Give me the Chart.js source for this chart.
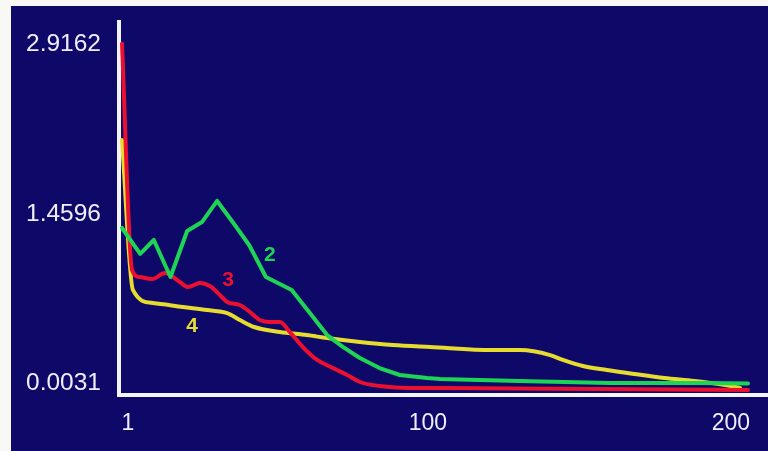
<!DOCTYPE html>
<html>
<head>
<meta charset="utf-8">
<script src="https://cdn.jsdelivr.net/npm/chart.js@4.4.1/dist/chart.umd.min.js"></script>
<style>
html, body { margin: 0; padding: 0; background: #f8f8f4; }
#wrap { width: 768px; height: 451px; }
</style>
</head>
<body>
<div id="wrap"><canvas id="chart" width="768" height="451"></canvas></div>
<script>
// curve values
const greenX = [1, 7, 11.5, 17, 22.5, 27.4, 32.4, 38, 43, 48.5, 57, 63, 68.7, 74, 79.5, 86, 92.7, 101.7, 106, 132, 162, 192, 207.6];
const greenY = [1.338, 1.115, 1.235, 0.917, 1.312, 1.389, 1.570, 1.372, 1.190, 0.917, 0.806, 0.608, 0.419, 0.316, 0.222, 0.136, 0.076, 0.050, 0.042, 0.025, 0.007, 0.007, 0.003];

const redX = [1, 4.3, 6.9, 10.9, 15.2, 20.1, 22.8, 26.7, 30, 33.3, 35.7, 39.9, 43.2, 46.5, 49.8, 53.1, 56.4, 60.7, 65.4, 70.6, 75.3, 79.5, 86, 96, 106, 159, 207.6];
const redY = [2.92, 0.977, 0.917, 0.900, 0.951, 0.874, 0.831, 0.866, 0.840, 0.763, 0.703, 0.677, 0.617, 0.548, 0.531, 0.531, 0.445, 0.316, 0.205, 0.136, 0.076, 0.016, -0.018, -0.036, -0.036, -0.044, -0.053];

const yellowX = [1, 4.6, 11.2, 21.1, 29.1, 35.7, 39.9, 44.6, 53.1, 62, 68.7, 79.5, 90.4, 102.7, 123.4, 132.4, 142.3, 146.5, 153.1, 161, 170, 180, 190, 200, 205];
const yellowY = [2.093, 0.806, 0.694, 0.660, 0.634, 0.608, 0.548, 0.488, 0.445, 0.419, 0.393, 0.359, 0.333, 0.316, 0.290, 0.290, 0.247, 0.205, 0.153, 0.119, 0.085, 0.050, 0.025, -0.010, -0.036];

const seriesNames = ['2', '3', '4'];
const lineColors = ['#1ed454', '#ec1030', '#e6dc30'];
const xTicks = [1, 100, 200];
const yTicks = [0.0031, 1.4596, 2.9162];

// where the series numbers sit, in data units
const tagX = [49.8, 36, 24.1];
const tagY = [1.106, 0.891, 0.497];

const pts = (xs, ys) => xs.map((x, i) => ({ x: x, y: ys[i] }));

const backdrop = {
    id: 'backdrop',
    beforeDraw(chart) {
        const ctx = chart.ctx;
        ctx.save();
        ctx.fillStyle = '#f8f8f4';
        ctx.fillRect(0, 0, chart.width, chart.height);
        ctx.fillStyle = '#0e0868';
        ctx.fillRect(11, 6, chart.width - 11, chart.height - 6);
        ctx.restore();
    }
};

const curveTags = {
    id: 'curveTags',
    afterDatasetsDraw(chart) {
        const ctx = chart.ctx;
        const x = chart.scales.x, y = chart.scales.y;
        ctx.save();
        ctx.font = 'bold 21px "Liberation Sans", Arial, sans-serif';
        ctx.textAlign = 'center';
        ctx.textBaseline = 'middle';
        seriesNames.forEach((name, i) => {
            ctx.fillStyle = lineColors[i];
            ctx.fillText(name, x.getPixelForValue(tagX[i]), y.getPixelForValue(tagY[i]));
        });
        ctx.restore();
    }
};

const lineStyle = {
    borderWidth: 4,
    pointRadius: 0,
    fill: false,
    borderJoinStyle: 'round',
    borderCapStyle: 'round'
};

const fontFamily = '"Liberation Sans", Arial, sans-serif';

new Chart(document.getElementById('chart').getContext('2d'), {
    type: 'line',
    data: {
        datasets: [
            Object.assign({ label: seriesNames[0], data: pts(greenX, greenY), borderColor: lineColors[0], tension: 0 }, lineStyle),
            Object.assign({ label: seriesNames[1], data: pts(redX, redY), borderColor: lineColors[1], cubicInterpolationMode: 'monotone' }, lineStyle),
            Object.assign({ label: seriesNames[2], data: pts(yellowX, yellowY), borderColor: lineColors[2], cubicInterpolationMode: 'monotone' }, lineStyle)
        ]
    },
    options: {
        responsive: false,
        animation: false,
        layout: { padding: { top: 22, left: 0, right: 0, bottom: 0 } },
        plugins: {
            legend: { display: false },
            tooltip: { enabled: false }
        },
        scales: {
            x: {
                type: 'linear',
                min: 0.01,
                max: 214.2,
                afterBuildTicks: s => { s.ticks = xTicks.map(v => ({ value: v })); },
                afterFit: s => { s.height = 56; s.paddingLeft = 0; s.paddingRight = 0; },
                grid: { display: false, drawTicks: false },
                border: { display: true, color: '#f4f4ff', width: 4 },
                ticks: {
                    color: '#eeeeff',
                    font: { family: fontFamily, size: 23 },
                    padding: 15,
                    labelOffset: 6,
                    maxRotation: 0,
                    autoSkip: false,
                    callback: v => String(v)
                }
            },
            y: {
                type: 'linear',
                min: -0.0956,
                max: 3.1061,
                afterBuildTicks: s => { s.ticks = yTicks.map(v => ({ value: v })); },
                afterFit: s => { s.width = 119; s.paddingTop = 0; s.paddingBottom = 0; },
                grid: { display: false, drawTicks: false },
                border: { display: true, color: '#f4f4ff', width: 4 },
                ticks: {
                    color: '#eeeeff',
                    font: { family: fontFamily, size: 24.5 },
                    padding: 18,
                    autoSkip: false,
                    callback: v => v.toFixed(4)
                }
            }
        }
    },
    plugins: [backdrop, curveTags]
});
</script>
</body>
</html>
